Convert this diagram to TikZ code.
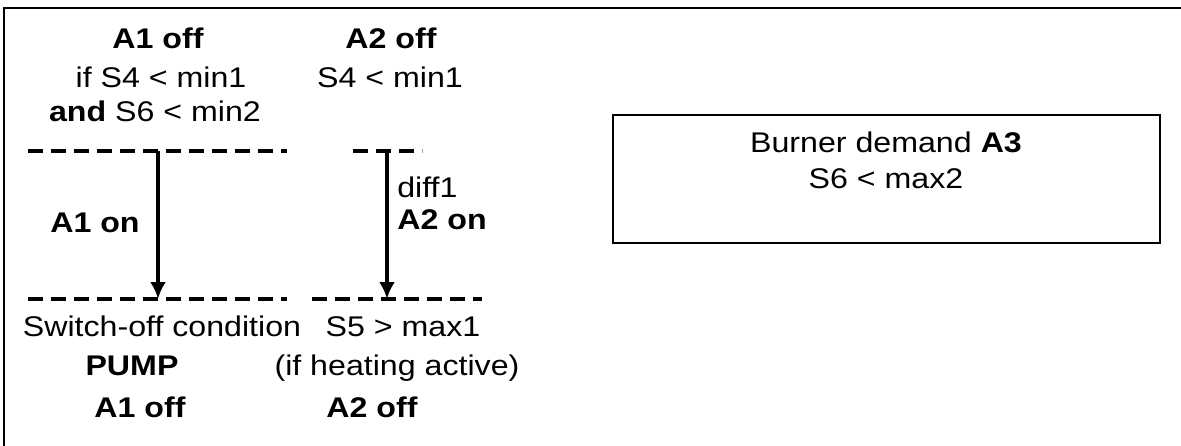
\documentclass[tikz,border=0pt]{standalone}
\usepackage{fontspec}
\setmainfont{Liberation Sans}[FakeStretch=1.13]
\usetikzlibrary{arrows.meta}
\begin{document}
\begin{tikzpicture}[x=0.02cm, y=-0.02cm, >={Latex[length=0.34cm,width=0.32cm]},
    txt/.style={anchor=base, inner sep=0pt, font=\fontsize{16.2}{19}\selectfont},
    lft/.style={txt, anchor=base west},
    lim/.style={line width=2.1pt, dash pattern=on 0.3cm off 0.16cm},
    sw/.style={line width=2pt}]
\useasboundingbox (0,0) rectangle (1181,446);
% frame
\draw[line width=1.4pt] (4,446)--(4,8)--(1181,8);
% switching limits
\coordinate (l1a) at (28,151);  \coordinate (l1b) at (287,151);
\coordinate (l2a) at (353,151); \coordinate (l2b) at (422,151);
\coordinate (l3a) at (28,299);  \coordinate (l3b) at (287,299);
\coordinate (l4a) at (312,299); \coordinate (l4b) at (482,299);
\draw[lim] (l1a)--(l1b);
\draw[lim] (l2a)--(l2b);
\draw[lim] (l3a)--(l3b);
\draw[lim] (l4a)--(l4b);
% arrows
\coordinate (t1) at (158,151); \coordinate (b1) at (158,299);
\coordinate (t2) at (387,151); \coordinate (b2) at (387,299);
\draw[sw,->] (t1)--(b1);
\draw[sw,->] (t2)--(b2);
% pump A1
\node[txt] (a1off) at (158,49) {\textbf{A1 off}};
\node[txt] (a1if) at (161,88) {if S4 < min1};
\node[txt] (a1and) at (155,122) {\textbf{and} S6 < min2};
\node[txt] (a1on) at (95,233) {\textbf{A1 on}};
\node[txt] (swoff) at (162,337) {Switch-off condition};
\node[txt] (pump) at (132,375) {\textbf{PUMP}};
\node[txt] (a1off2) at (140,417) {\textbf{A1 off}};
% valve A2
\node[txt] (a2off) at (391,49) {\textbf{A2 off}};
\node[txt] (a2s4) at (390,88) {S4 < min1};
\node[lft] (diff) at (397,197) {diff1};
\node[lft] (a2on) at (397,230) {\textbf{A2 on}};
\node[txt] (a2s5) at (403,337) {S5 > max1};
\node[txt] (heat) at (397,375) {(if heating active)};
\node[txt] (a2off2) at (372,417) {\textbf{A2 off}};
% burner
\draw[line width=1.4pt] (613,115) rectangle (1160,243);
\node[txt] (burner) at (886,153) {Burner demand \textbf{A3}};
\node[txt] (s6) at (886,189) {S6 < max2};
\end{tikzpicture}
\end{document}
